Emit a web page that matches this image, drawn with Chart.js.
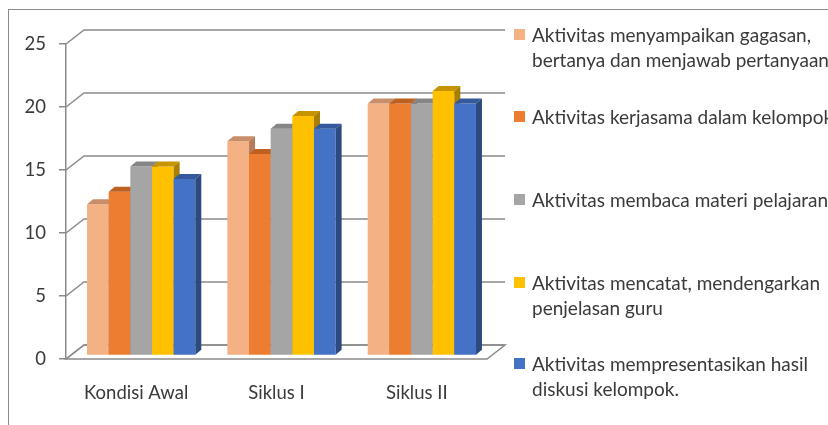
<!DOCTYPE html>
<html>
<head>
<meta charset="utf-8">
<script src="https://cdn.jsdelivr.net/npm/chart.js@4/dist/chart.umd.min.js"></script>
<style>
  html, body { margin: 0; padding: 0; background: #ffffff; width: 828px; height: 425px; overflow: hidden; position: relative; }
  #frame { position: absolute; left: 8px; top: 9px; width: 900px; height: 500px; border: 1px solid #8c8c8c; box-sizing: border-box; }
  #c { position: absolute; left: 0; top: 0; }
  #legend { position: absolute; left: 0; top: 0; width: 828px; height: 425px; overflow: hidden; font-family: Lato, "Noto Sans", sans-serif; font-size: 19px; color: #3a3a3a; }
  .item { position: absolute; left: 514px; white-space: nowrap; line-height: 25px; }
  .box { position: absolute; left: 0; width: 11px; height: 11px; top: 7px; }
  .txt { position: absolute; left: 18px; top: 0; }
</style>
</head>
<body>
<div id="frame"></div>
<canvas id="c" width="828" height="425"></canvas>
<div id="legend"></div>
<script>
// ---- data ----
const categories = ["Kondisi Awal", "Siklus I", "Siklus II"];
const seriesNames = [
  ["Aktivitas menyampaikan gagasan,", "bertanya dan menjawab pertanyaan"],
  ["Aktivitas kerjasama dalam kelompok"],
  ["Aktivitas membaca materi pelajaran"],
  ["Aktivitas mencatat, mendengarkan", "penjelasan guru"],
  ["Aktivitas mempresentasikan hasil", "diskusi kelompok."]
];
const menyampaikan = [12, 17, 20];
const kerjasama    = [13, 16, 20];
const membaca      = [15, 18, 20];
const mencatat     = [15, 19, 21];
const presentasi   = [14, 18, 20];
const yTicks = [0, 5, 10, 15, 20, 25];

// ---- styles ----
const frontColors = ["#F4B183", "#ED7D31", "#A5A5A5", "#FFC000", "#4472C4"];
const topColors   = ["#C98D69", "#BD6020", "#858585", "#C59400", "#34599C"];
const sideColors  = ["#B57C5B", "#A4531B", "#6F6F6F", "#A87F00", "#2C4A80"];
const gridColor = "#8a8a8a";
const DX = 18, DY = 14;        // wall depth
const BDX = 6, BDY = 5;        // bar depth
const SHIFT_X = 5, SHIFT_Y = -3.5;

const seriesValues = [menyampaikan, kerjasama, membaca, mencatat, presentasi];

const datasets = seriesValues.map((vals, i) => ({
  label: seriesNames[i].join(" "),
  data: vals,
  backgroundColor: frontColors[i],
  borderWidth: 0,
  categoryPercentage: 0.7714,
  barPercentage: 1.0
}));

const wallPlugin = {
  id: "wall3d",
  beforeDatasetsDraw(chart) {
    const ctx = chart.ctx;
    const ys = chart.scales.y;
    const area = chart.chartArea;
    ctx.save();
    ctx.strokeStyle = gridColor;
    ctx.lineWidth = 1.5;
    // floor
    const b = ys.getPixelForValue(0);
    ctx.beginPath();
    ctx.moveTo(area.left, b);
    ctx.lineTo(area.right, b);
    ctx.lineTo(area.right + DX, b - DY);
    ctx.lineTo(area.left + DX, b - DY);
    ctx.closePath();
    ctx.fillStyle = "#ffffff";
    ctx.fill();
    ctx.stroke();
    // back gridlines with diagonals
    yTicks.forEach(v => {
      const y = ys.getPixelForValue(v);
      ctx.beginPath();
      ctx.moveTo(area.left, y);
      ctx.lineTo(area.left + DX, y - DY);
      ctx.lineTo(area.right + DX, y - DY);
      ctx.stroke();
    });
    ctx.restore();

    // bars: drawn left to right, each with its top and side faces
    ctx.save();
    ctx.translate(SHIFT_X, SHIFT_Y);
    chart.data.datasets.forEach((ds, i) => {
      const meta = chart.getDatasetMeta(i);
      meta.data.forEach(bar => {
        bar.draw(ctx, area);
        const p = bar.getProps(["x", "y", "base", "width"], true);
        const l = p.x - p.width / 2, r = p.x + p.width / 2;
        ctx.beginPath();
        ctx.moveTo(l, p.y);
        ctx.lineTo(r, p.y);
        ctx.lineTo(r + BDX, p.y - BDY);
        ctx.lineTo(l + BDX, p.y - BDY);
        ctx.closePath();
        ctx.fillStyle = topColors[i];
        ctx.fill();
        ctx.beginPath();
        ctx.moveTo(r, p.y);
        ctx.lineTo(r + BDX, p.y - BDY);
        ctx.lineTo(r + BDX, p.base - BDY);
        ctx.lineTo(r, p.base);
        ctx.closePath();
        ctx.fillStyle = sideColors[i];
        ctx.fill();
      });
    });
    ctx.restore();
    return false;
  }
};

new Chart(document.getElementById("c"), {
  type: "bar",
  data: { labels: categories, datasets },
  options: {
    responsive: false,
    animation: false,
    devicePixelRatio: 1,
    layout: { padding: { left: 0, right: 341, top: 44, bottom: 0 } },
    plugins: { legend: { display: false }, tooltip: { enabled: false } },
    scales: {
      x: {
        grid: { display: false, drawTicks: false },
        border: { display: false },
        ticks: { color: "#3a3a3a", font: { family: "Lato", size: 18.5 }, padding: 23 },
        afterFit(s) { s.height = 66; }
      },
      y: {
        min: 0, max: 25,
        afterBuildTicks(s) { s.ticks = yTicks.map(v => ({ value: v })); },
        grid: { drawOnChartArea: false, drawTicks: true, tickLength: 7, color: gridColor, lineWidth: 1.5 },
        border: { display: true, color: gridColor, width: 1.5 },
        ticks: { color: "#3a3a3a", font: { family: "Lato", size: 18.5 }, padding: 13 },
        afterFit(s) { s.width = 66; }
      }
    }
  },
  plugins: [wallPlugin]
});

// ---- HTML legend ----
const legendTops = [22, 104, 187, 270, 351];
const lg = document.getElementById("legend");
seriesNames.forEach((lines, i) => {
  const it = document.createElement("div");
  it.className = "item";
  it.style.top = legendTops[i] + "px";
  const bx = document.createElement("div");
  bx.className = "box";
  bx.style.background = frontColors[i];
  const tx = document.createElement("div");
  tx.className = "txt";
  tx.innerHTML = lines.join("<br>");
  it.appendChild(bx);
  it.appendChild(tx);
  lg.appendChild(it);
});
</script>
</body>
</html>
